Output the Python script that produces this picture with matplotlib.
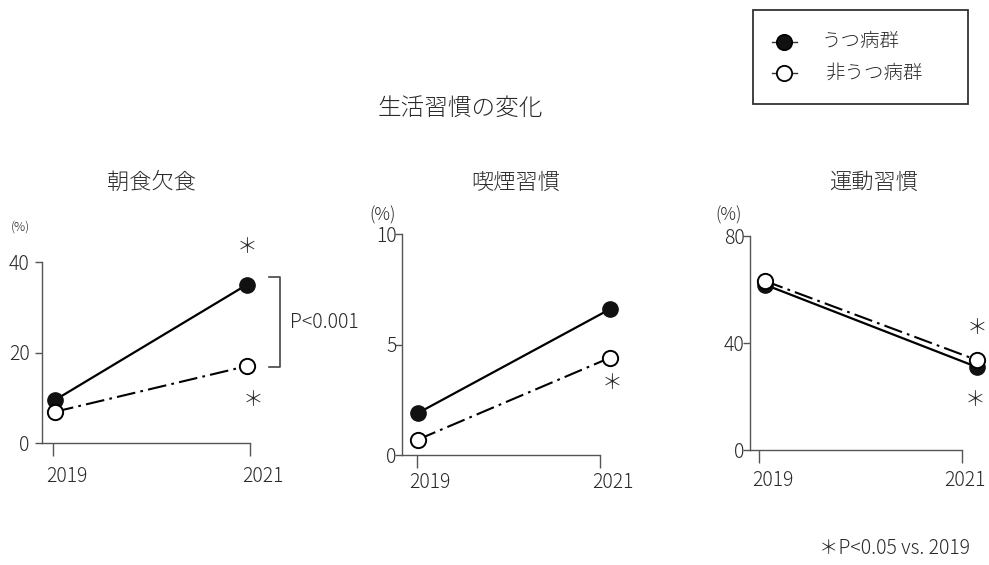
import matplotlib
matplotlib.use("Agg")
import matplotlib.pyplot as plt
from matplotlib.lines import Line2D
from matplotlib.patches import Rectangle

plt.rcParams["font.family"] = ["Noto Sans CJK JP", "DejaVu Sans"]
plt.rcParams["font.weight"] = "light"

# data
panel_titles = ["朝食欠食", "喫煙習慣", "運動習慣"]
years = ["2019", "2021"]
depressed = [[9.5, 35.0], [1.9, 6.6], [61.8, 31.0]]
non_depressed = [[6.9, 17.0], [0.7, 4.4], [63.2, 33.6]]
y_ticks = [[0, 20, 40], [0, 5, 10], [0, 40, 80]]
group_labels = ["うつ病群", "非うつ病群"]

W, H = 989, 565
TEXT = "#2a2a2a"
AXIS = "#555555"

# pixel layout per panel: axis left/right/bottom/top, point x (2019, 2021),
# tick x, year label x, year label y, (%) position + size, tick pad, title x
layout = [
    dict(box=(42, 250, 443, 262), px=(55, 247), ticks=(53, 250), labx=(67, 263), laby=477,
         pct=(20, 227, 9), pad=4, title_x=152),
    dict(box=(402, 600, 455, 234), px=(418, 610), ticks=(417, 600), labx=(430, 613), laby=483,
         pct=(383, 215, 12.5), pad=-1, title_x=516),
    dict(box=(750, 962, 450, 236), px=(765, 977), ticks=(759, 962), labx=(773, 965), laby=480,
         pct=(729, 215, 12.5), pad=-1, title_x=874),
]


def fx(x):
    return x / W


def fy(y):
    return 1 - y / H


fig = plt.figure(figsize=(W / 100, H / 100), dpi=100)

for i, lay in enumerate(layout):
    left, right, bottom, top = lay["box"]
    m0, m1 = lay["px"]
    span = m1 - m0
    ax = fig.add_axes([fx(left), fy(bottom), (right - left) / W, (bottom - top) / H])

    def to_x(p):
        return (p - m0) / span

    ax.set_xlim(to_x(left), to_x(right))
    ax.set_ylim(y_ticks[i][0], y_ticks[i][-1])

    x = list(range(len(years)))
    ax.plot(x, depressed[i], color="black", lw=1.6, marker="o", ms=11,
            mfc="#111111", mec="#111111", clip_on=False, zorder=3)
    ax.plot(x, non_depressed[i], color="black", lw=1.5, dashes=(9, 2.5, 1.3, 2.5),
            marker="o", ms=11, mfc="white", mec="black", mew=1.4, clip_on=False, zorder=4)

    for s in ["top", "right"]:
        ax.spines[s].set_visible(False)
    for s in ["left", "bottom"]:
        ax.spines[s].set_color(AXIS)
        ax.spines[s].set_linewidth(1.0)

    ax.set_yticks(y_ticks[i])
    ax.set_yticklabels([str(v) for v in y_ticks[i]])
    ax.tick_params(axis="y", length=5, width=1.0, color=AXIS, pad=lay["pad"],
                   labelsize=14, labelcolor=TEXT)
    ax.set_xticks([to_x(t) for t in lay["ticks"]])
    ax.set_xticklabels(["", ""])
    ax.tick_params(axis="x", direction="out", length=9, width=1.0, color=AXIS)

    for lx, yr in zip(lay["labx"], years):
        fig.text(fx(lx), fy(lay["laby"]), yr, ha="center", va="center",
                 fontsize=14, color=TEXT)

    px_, py_, ps = lay["pct"]
    fig.text(fx(px_), fy(py_), "(%)", ha="center", va="center", fontsize=ps, color=TEXT)
    fig.text(fx(lay["title_x"]), fy(183), panel_titles[i], ha="center", va="center",
             fontsize=16, color=TEXT)

# significance marks
for (ax_, ay_) in [(247, 247), (253, 400), (612, 383), (977, 328), (975, 400)]:
    fig.text(fx(ax_), fy(ay_), "＊", ha="center", va="center", fontsize=15, color=TEXT)

# bracket between groups in first panel
fig.add_artist(Line2D([fx(269), fx(280), fx(280), fx(269)],
                      [fy(277), fy(277), fy(367), fy(367)], color="#444444", lw=1.2))
fig.text(fx(290), fy(322), "P<0.001", ha="left", va="center", fontsize=14, color=TEXT)

# main title
fig.text(fx(460), fy(108), "生活習慣の変化", ha="center", va="center", fontsize=17, color=TEXT)

# legend box
fig.add_artist(Rectangle((fx(753), fy(104)), (968 - 753) / W, (104 - 10) / H,
                         transform=fig.transFigure, fill=False, edgecolor="#333333", lw=1.3))
for row, (ly, face, label, tx) in enumerate([(42, "#111111", group_labels[0], 822),
                                             (73, "white", group_labels[1], 825)]):
    fig.add_artist(Line2D([fx(772), fx(797)], [fy(ly), fy(ly)], color="#333333", lw=1.0))
    fig.add_artist(Line2D([fx(784)], [fy(ly)], marker="o", ms=11, mfc=face,
                          mec="black", mew=1.3, lw=0))
    fig.text(fx(tx), fy(ly), label, ha="left", va="center", fontsize=14, color=TEXT)

# footnote
fig.text(fx(970), fy(548), "＊P<0.05 vs. 2019", ha="right", va="center", fontsize=14, color=TEXT)

fig.savefig("out.png", dpi=100)
